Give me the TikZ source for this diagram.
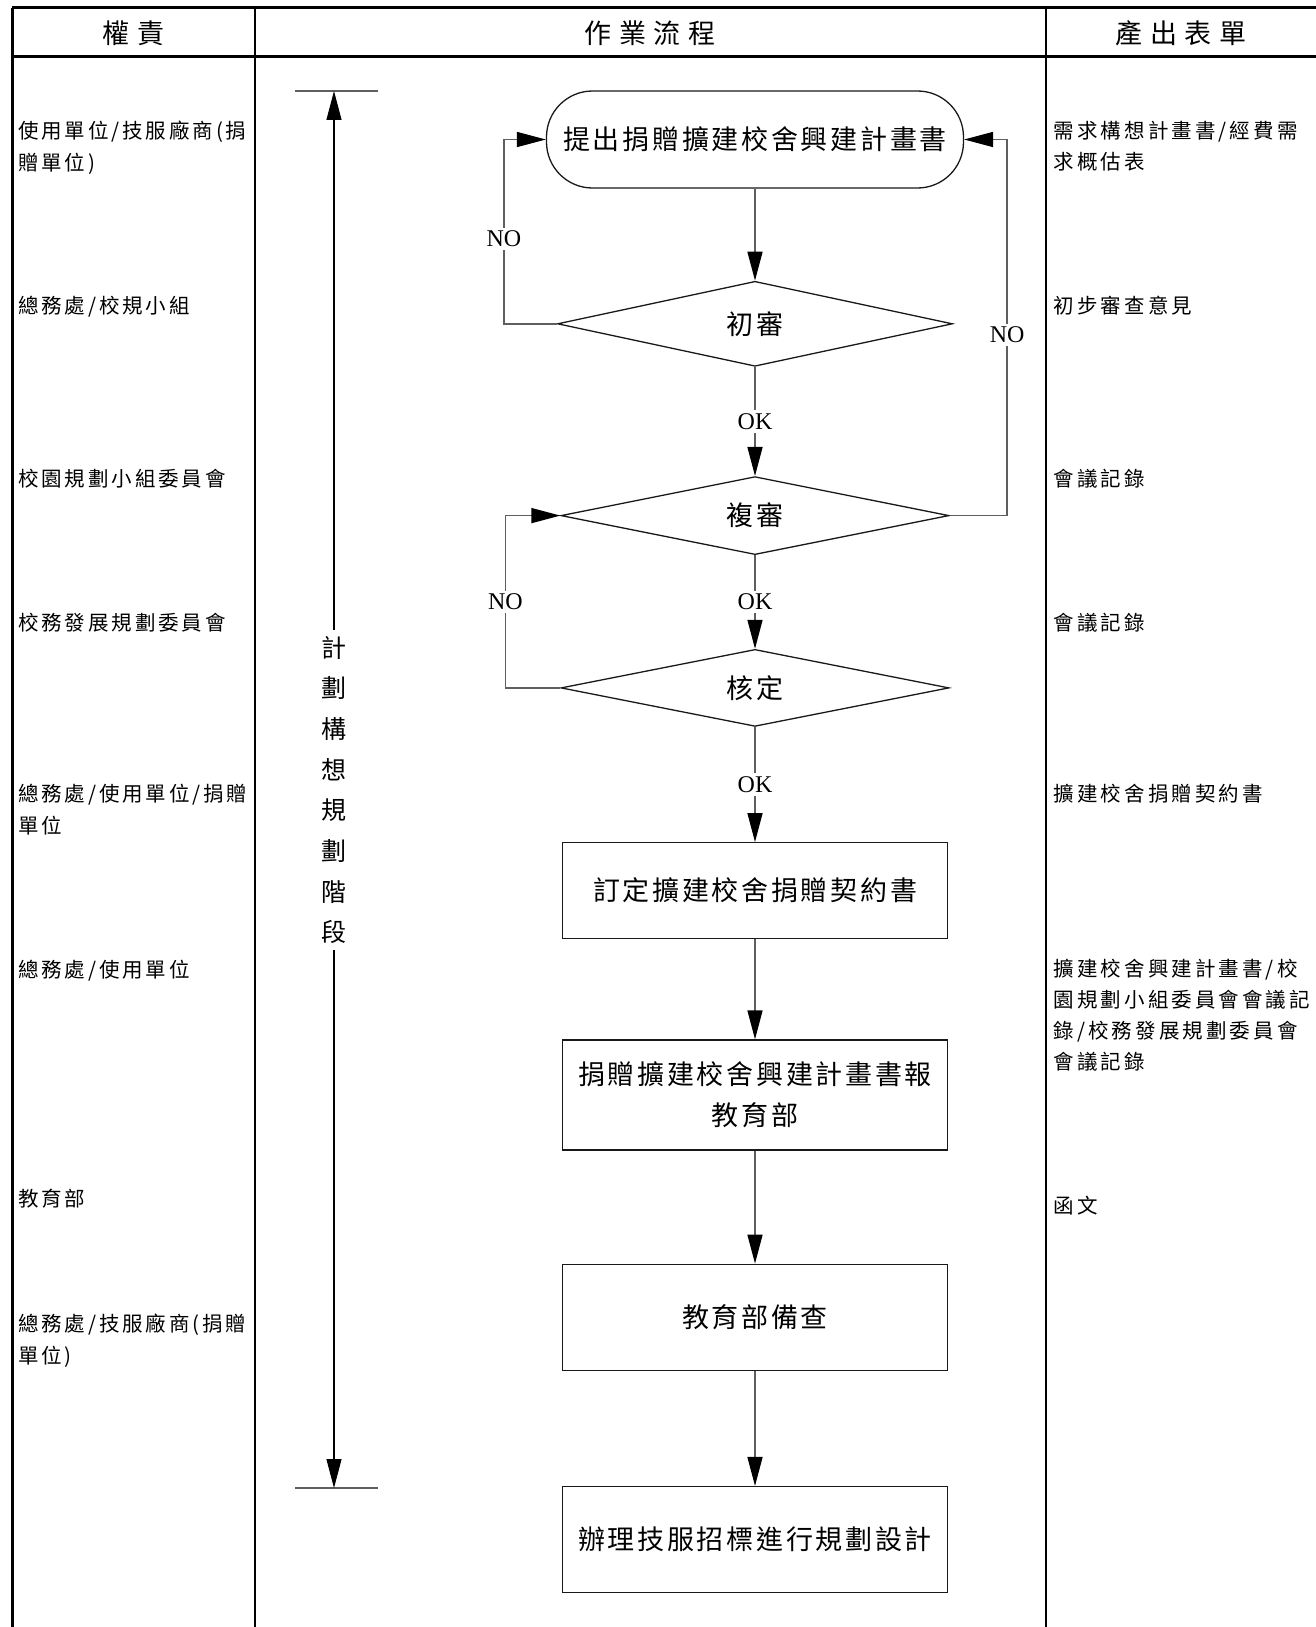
\documentclass[tikz,border=0pt]{standalone}
\usepackage{fontspec}
\setmainfont{Liberation Serif}
\newfontfamily\cjkhead[LetterSpace=28]{Noto Sans CJK TC}
\newfontfamily\cjkbox[LetterSpace=10]{Noto Sans CJK TC}
\newfontfamily\cjkside[LetterSpace=14]{Noto Sans CJK TC}
\newfontfamily\cjkform[LetterSpace=15]{Noto Sans CJK TC}
\newfontfamily\cjkphase{Noto Sans CJK TC}
\usetikzlibrary{arrows.meta,positioning,shapes.geometric}
\definecolor{lineblack}{RGB}{25,25,25}
\definecolor{conngray}{RGB}{95,95,95}

\begin{document}
\begin{tikzpicture}[x=1pt,y=-1pt,>={Triangle[length=29pt,width=15pt,color=black]}]
\tikzset{grid/.style={line width=3pt,black},
  col/.style={line width=2.4pt,black},
  proc/.style={draw=lineblack,line width=1.3pt,minimum width=385pt,inner sep=0pt,align=center,font=\cjkbox\fontsize{27}{41}\selectfont},
  term/.style={proc,rounded corners=46pt,minimum width=417pt,minimum height=97pt},
  dec/.style={proc,diamond,aspect=5,minimum width=388pt,minimum height=78pt},
  conn/.style={draw=conngray,line width=1.5pt},
  lbl/.style={fill=white,inner sep=3pt,font=\fontsize{24}{24}\selectfont},
  head/.style={font=\cjkhead\fontsize{27}{27}\selectfont},
  duty/.style={anchor=north west,inner sep=0pt,align=left,font=\cjkside\fontsize{20.5}{32}\selectfont},
  form/.style={duty,font=\cjkform\fontsize{20.5}{31}\selectfont},
  phasetext/.style={align=center,inner sep=6pt,font=\cjkphase\fontsize{25}{40.7}\selectfont},
  bar/.style={draw=conngray,line width=2pt}}
\useasboundingbox (0,0) rectangle (1316,1627);

\draw[grid] (12,8) -- (1316,8) (12,57) -- (1316,57);
\draw[grid] (12,8) -- (12,1627);
\draw[col] (255,8) -- (255,1627) (1046,8) -- (1046,1627);
\node[head] (hduty) at (133.5,33) {權責};
\node[head] (hflow) at (650,33) {作業流程};
\node[head] (hform) at (1181,33) {產出表單};

\node[term] (start) at (755,139.5) {提出捐贈擴建校舍興建計畫書};
\node[dec,below=92pt of start,minimum width=395pt,minimum height=85pt] (d1) {初審};
\node[dec,below=109pt of d1,minimum height=78pt] (d2) {複審};
\node[dec,below=93.5pt of d2,minimum height=77pt] (d3) {核定};
\node[proc,below=115pt of d3,minimum height=96pt] (b1) {訂定擴建校舍捐贈契約書};
\node[proc,below=100pt of b1,minimum height=110pt] (b2) {捐贈擴建校舍興建計畫書報\\教育部};
\node[proc,below=113pt of b2,minimum height=106pt] (b3) {教育部備查};
\node[proc,below=115pt of b3,minimum height=106pt] (b4) {辦理技服招標進行規劃設計};

\draw[conn,->] (start) -- (d1);
\draw[conn,->] (d1) -- node[lbl]{OK} (d2);
\draw[conn,->] (d2) -- node[lbl]{OK} (d3);
\draw[conn,->] (d3) -- node[lbl]{OK} (b1);
\draw[conn,->] (b1) -- (b2);
\draw[conn,->] (b2) -- (b3);
\draw[conn,->] (b3) -- (b4);
\draw[conn,->] (d1.west) -| node[lbl,pos=0.73]{NO} ([xshift=-42pt]start.west) -- (start.west);
\draw[conn,->] (d2.east) -| node[lbl,pos=0.74]{NO} ([xshift=43pt]start.east) -- (start.east);
\draw[conn,->] (d3.west) -| node[lbl,pos=0.75]{NO} ([xshift=-55pt]d2.west) -- (d2.west);

\coordinate (ptop) at (334,91);
\coordinate (pbot) at (334,1488);
\draw[bar] ([xshift=-39pt]ptop) -- ([xshift=44pt]ptop);
\draw[bar] ([xshift=-39pt]pbot) -- ([xshift=44pt]pbot);
\node[phasetext] (phase) at (334,790) {計\\劃\\構\\想\\規\\劃\\階\\段};
\draw[line width=1.3pt,->] (phase) -- (ptop);
\draw[line width=1.3pt,->] (phase) -- (pbot);

\node[duty] (r1) at (18,121) {使用單位/技服廠商(捐\\贈單位)};
\node[duty] (r2) at (18,296) {總務處/校規小組};
\node[duty] (r3) at (18,468.5) {校園規劃小組委員會};
\node[duty] (r4) at (18,612.7) {校務發展規劃委員會};
\node[duty] (r5) at (18,784) {總務處/使用單位/捐贈\\單位};
\node[duty] (r6) at (18,960) {總務處/使用單位};
\node[duty] (r7) at (18,1189) {教育部};
\node[duty] (r8) at (18,1314) {總務處/技服廠商(捐贈\\單位)};

\node[form] (f1) at (1053.5,121) {需求構想計畫書/經費需\\求概估表};
\node[form] (f2) at (1053.5,296) {初步審查意見};
\node[form] (f3) at (1053.5,468.5) {會議記錄};
\node[form] (f4) at (1053.5,612.7) {會議記錄};
\node[form] (f5) at (1053.5,784) {擴建校舍捐贈契約書};
\node[form] (f6) at (1053.5,959.4) {擴建校舍興建計畫書/校\\園規劃小組委員會會議記\\錄/校務發展規劃委員會\\會議記錄};
\node[form] (f7) at (1053.5,1196) {函文};
\end{tikzpicture}
\end{document}
